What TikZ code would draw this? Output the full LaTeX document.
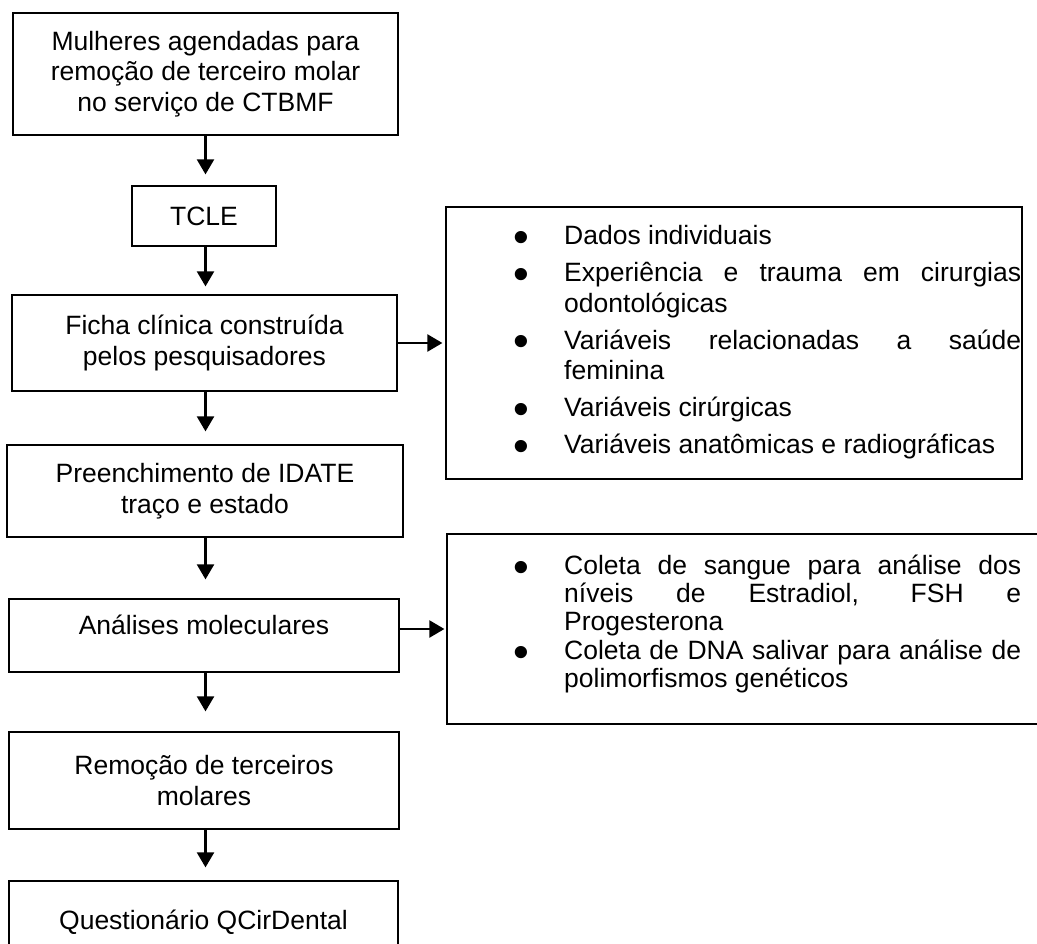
\documentclass[tikz,border=0pt]{standalone}
\usepackage{fontspec}
\usepackage{graphicx}
\setmainfont{Liberation Sans}
\usetikzlibrary{arrows.meta}
\newcommand{\blt}{\leavevmode\llap{\makebox[86pt]{\raisebox{-7.5pt}[0pt][0pt]{\scalebox{1.7}{•}}}}}
\begin{document}
\begin{tikzpicture}[x=1pt,y=-1pt,
  box/.style={draw=black, line width=1.2pt, inner sep=0pt, align=center,
    font=\fontsize{26.5}{30.5}\selectfont},
  sidebox/.style={draw=black, line width=1.2pt, inner sep=0pt},
  arr/.style={line width=2.2pt, -{Triangle[width=17pt,length=15pt]}},
  listtext/.style={anchor=base west, inner sep=0pt, text width=543pt, align=justify,
    font=\fontsize{26.5}{30.5}\selectfont}]
\useasboundingbox (0,0) rectangle (1037,944);
\fill[white] (0,0) rectangle (1037,944);
\clip (0,0) rectangle (1037,944);
% left column
\node[box, minimum width=385pt, minimum height=122pt] (A) at (205.5,74)
  {Mulheres agendadas para\\remoção de terceiro molar\\no serviço de CTBMF};
\node[box, minimum width=144pt, minimum height=60pt] (B) at (204,216) {TCLE};
\node[box, minimum width=385pt, minimum height=96pt] (C) at (204.5,343)
  {Ficha clínica construída\\pelos pesquisadores};
\node[box, minimum width=396pt, minimum height=92pt] (D) at (205,491)
  {Preenchimento de IDATE\\traço e estado};
\node[box, minimum width=390pt, minimum height=73pt, text height=10pt, text depth=12.2pt] (E) at (204,635.5)
  {Análises moleculares};
\node[box, minimum width=390pt, minimum height=97pt] (F) at (204,780.5)
  {Remoção de terceiros\\molares};
\node[box, minimum width=389pt, minimum height=92pt, text height=10pt, text depth=6pt] (G) at (203.5,927)
  {Questionário QCirDental};
% right boxes
\node[sidebox, minimum width=576pt, minimum height=272pt] (R1) at (734,343) {};
\node[sidebox, minimum width=603pt, minimum height=190pt] (R2) at (748.5,629) {};
\node[listtext] (R1t) at (478,245) {\tolerance=10000\parindent=0pt\leftskip=86pt\setlength{\parskip}{6.5pt}%
  \blt Dados individuais\par
  \blt Experiência e trauma em cirurgias\linebreak odontológicas\par
  \blt Variáveis relacionadas a saúde\linebreak feminina\par
  \blt Variáveis cirúrgicas\par
  \blt Variáveis anatômicas e radiográficas\par};
\node[listtext, font=\fontsize{26.5}{28.2}\selectfont] (R2t) at (478,574.5) {\tolerance=10000\parindent=0pt\leftskip=86pt\setlength{\parskip}{0.5pt}%
  \blt Coleta de sangue para análise dos\linebreak níveis de Estradiol, FSH e\linebreak Progesterona\par
  \blt Coleta de DNA salivar para análise de\linebreak polimorfismos genéticos\par};
% arrows
\draw[arr, shorten >=11pt] (A.south) -- (A.south |- B.north);
\draw[arr, shorten >=8pt] (A.south |- B.south) -- (A.south |- C.north);
\draw[arr, shorten >=13pt] (A.south |- C.south) -- (A.south |- D.north);
\draw[arr, shorten >=19pt] (A.south |- D.south) -- (A.south |- E.north);
\draw[arr, shorten >=20pt] (A.south |- E.south) -- (A.south |- F.north);
\draw[arr, shorten >=13pt] (A.south |- F.south) -- (A.south |- G.north);
\draw[arr, shorten >=3pt] (C.east) -- (R1.west);
\draw[arr, shorten >=2pt] (R2.west -| E.east) -- (R2.west);
\end{tikzpicture}
\end{document}
